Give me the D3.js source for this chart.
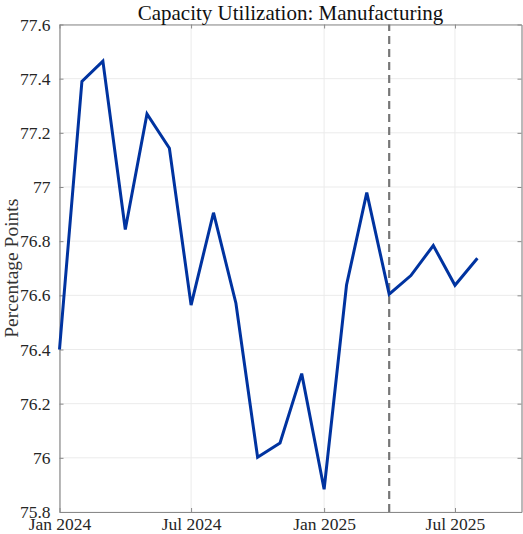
<!DOCTYPE html>
<html>
<head>
<meta charset="utf-8">
<script src="https://cdn.jsdelivr.net/npm/d3@7"></script>
<style>
  html, body { margin: 0; padding: 0; background: #fff; }
  svg { display: block; }
  text { font-family: "Liberation Serif", "DejaVu Serif", serif; }
</style>
</head>
<body>
<svg id="chart" width="523" height="534"></svg>
<script>
// Monthly capacity utilization, manufacturing (percent)
const months = [
  "2024-01", "2024-02", "2024-03", "2024-04", "2024-05", "2024-06",
  "2024-07", "2024-08", "2024-09", "2024-10", "2024-11", "2024-12",
  "2025-01", "2025-02", "2025-03", "2025-04", "2025-05", "2025-06",
  "2025-07", "2025-08"
];
const utilization = [
  76.40, 77.39, 77.465, 76.843, 77.27, 77.143,
  76.564, 76.905, 76.571, 76.002, 76.055, 76.311,
  75.884, 76.638, 76.979, 76.604, 76.673, 76.784,
  76.637, 76.737
];
const yTickValues = [75.8, 76, 76.2, 76.4, 76.6, 76.8, 77, 77.2, 77.4, 77.6];
const xTickDates = ["2024-01", "2024-07", "2025-01", "2025-07"];
const xDomain = ["2024-01", "2025-10"];
const markerDate = "2025-04";

const parse = d3.timeParse("%Y-%m");
const data = months.map((m, i) => ({ date: parse(m), value: utilization[i] }));

const margin = { left: 59.5, right: 1.5, top: 24.5, bottom: 22 };
const W = 523, H = 534;
const svg = d3.select("#chart");

const x = d3.scaleTime()
  .domain(xDomain.map(parse))
  .range([margin.left, W - margin.right]);
const y = d3.scaleLinear()
  .domain([75.8, 77.6])
  .range([H - margin.bottom, margin.top]);

const gridColor = "#ebebeb";
const axisColor = "#8a8a8a";
const labelColor = "#262626";

// grid
svg.append("g")
  .selectAll("line.hgrid")
  .data(yTickValues)
  .join("line")
  .attr("x1", x.range()[0]).attr("x2", x.range()[1])
  .attr("y1", d => y(d)).attr("y2", d => y(d))
  .attr("stroke", gridColor).attr("stroke-width", 1);

svg.append("g")
  .selectAll("line.vgrid")
  .data(xTickDates.map(parse))
  .join("line")
  .attr("x1", d => x(d)).attr("x2", d => x(d))
  .attr("y1", y.range()[0]).attr("y2", y.range()[1])
  .attr("stroke", gridColor).attr("stroke-width", 1);

// axes with inward ticks
const fmtY = d3.format("~g");
const fmtX = d3.timeFormat("%b %Y");

const yAxisLeft = svg.append("g")
  .attr("transform", `translate(${margin.left},0)`)
  .call(d3.axisLeft(y).tickValues(yTickValues).tickFormat(fmtY).tickSizeInner(-4).tickSizeOuter(0).tickPadding(9));
const yAxisRight = svg.append("g")
  .attr("transform", `translate(${W - margin.right},0)`)
  .call(d3.axisRight(y).tickValues(yTickValues).tickFormat("").tickSizeInner(-4).tickSizeOuter(0));
const xAxisBottom = svg.append("g")
  .attr("transform", `translate(0,${H - margin.bottom})`)
  .call(d3.axisBottom(x).tickValues(xTickDates.map(parse)).tickFormat(fmtX).tickSizeInner(-4).tickSizeOuter(0));
const xAxisTop = svg.append("g")
  .attr("transform", `translate(0,${margin.top})`)
  .call(d3.axisTop(x).tickValues(xTickDates.map(parse)).tickFormat("").tickSizeInner(-4).tickSizeOuter(0));

[yAxisLeft, yAxisRight, xAxisBottom, xAxisTop].forEach(g => {
  g.select(".domain").attr("stroke", axisColor).attr("stroke-width", 1.2);
  g.selectAll(".tick line").attr("stroke", axisColor).attr("stroke-width", 1);
  g.selectAll(".tick text")
    .attr("fill", labelColor)
    .style("font-family", '"Liberation Serif", serif')
    .style("font-size", "17.5px");
});
xAxisBottom.selectAll(".tick text").attr("y", 17.5).attr("dy", 0);

// marker line
svg.append("line")
  .attr("x1", x(parse(markerDate))).attr("x2", x(parse(markerDate)))
  .attr("y1", y.range()[0]).attr("y2", y.range()[1])
  .attr("stroke", "#777777").attr("stroke-width", 2.2)
  .attr("stroke-dasharray", "8,5");

// series
const line = d3.line().x(d => x(d.date)).y(d => y(d.value));
svg.append("path")
  .datum(data)
  .attr("d", line)
  .attr("fill", "none")
  .attr("stroke", "#0033a0")
  .attr("stroke-width", 3)
  .attr("stroke-linejoin", "miter");

// title and y label
svg.append("text")
  .attr("x", (x.range()[0] + x.range()[1]) / 2)
  .attr("y", 19.5)
  .attr("text-anchor", "middle")
  .attr("fill", "#111")
  .style("font-size", "21px")
  .text("Capacity Utilization: Manufacturing");

svg.append("text")
  .attr("transform", `translate(18,${(y.range()[0] + y.range()[1]) / 2}) rotate(-90)`)
  .attr("text-anchor", "middle")
  .attr("fill", "#333")
  .style("font-size", "19.5px")
  .text("Percentage Points");
</script>
</body>
</html>
